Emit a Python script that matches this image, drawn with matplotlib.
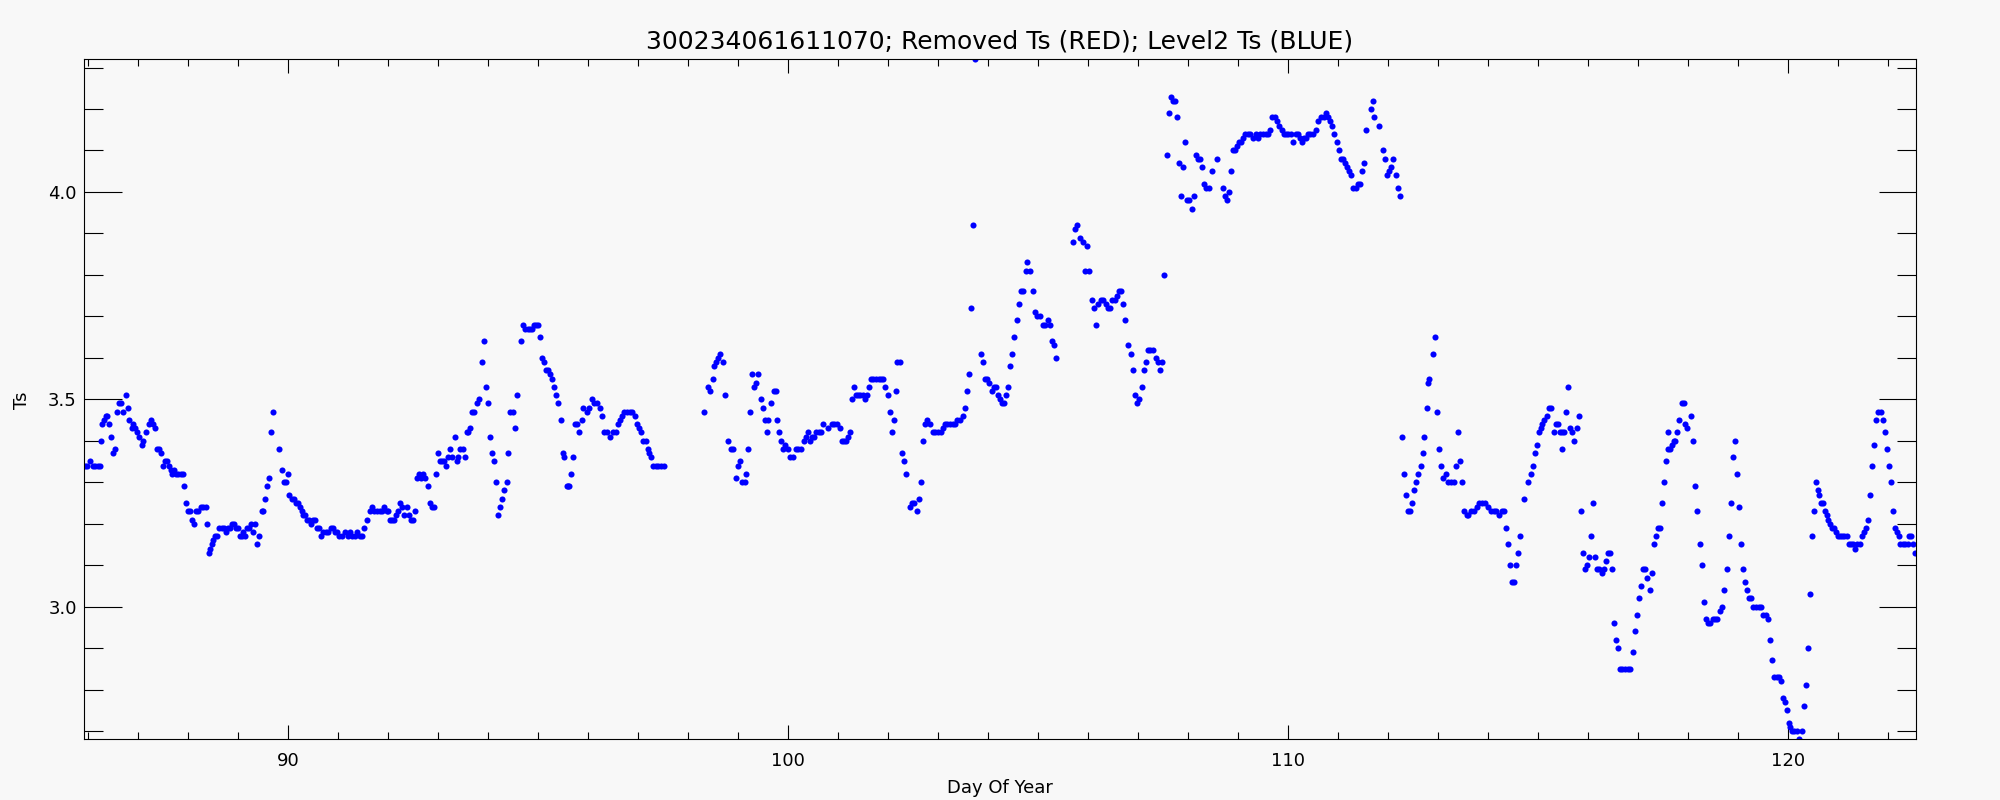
import numpy as np
import matplotlib.pyplot as plt
from matplotlib.ticker import MultipleLocator, FormatStrFormatter

plt.rcParams['font.family'] = 'DejaVu Sans'

title = '300234061611070; Removed Ts (RED); Level2 Ts (BLUE)'
x_label = 'Day Of Year'
y_label = 'Ts'

# Level2 Ts, (day of year, Ts)
ts_86_91 = [
    (85.94, 3.34), (85.98, 3.34), (86.03, 3.35), (86.09, 3.34), (86.14, 3.34), (86.19, 3.34), (86.23, 3.34),
    (86.25, 3.40), (86.27, 3.44), (86.31, 3.45), (86.35, 3.46), (86.38, 3.46), (86.42, 3.44), (86.45, 3.41),
    (86.49, 3.37), (86.53, 3.38), (86.57, 3.47), (86.61, 3.49), (86.65, 3.49), (86.70, 3.47), (86.75, 3.51),
    (86.79, 3.48), (86.82, 3.45), (86.87, 3.43), (86.90, 3.44), (86.93, 3.43), (86.98, 3.42), (87.02, 3.41),
    (87.07, 3.39), (87.10, 3.40), (87.15, 3.42), (87.21, 3.44), (87.25, 3.45), (87.29, 3.44), (87.33, 3.43),
    (87.37, 3.38), (87.42, 3.38), (87.45, 3.37), (87.49, 3.34), (87.53, 3.35), (87.57, 3.35), (87.61, 3.34),
    (87.65, 3.33), (87.68, 3.32), (87.72, 3.33), (87.75, 3.32), (87.80, 3.32), (87.85, 3.32), (87.89, 3.32),
    (87.91, 3.29), (87.95, 3.25), (87.99, 3.23), (88.03, 3.23), (88.08, 3.21), (88.11, 3.20), (88.15, 3.23),
    (88.20, 3.23), (88.25, 3.24), (88.30, 3.24), (88.35, 3.24), (88.37, 3.20), (88.41, 3.13), (88.43, 3.14),
    (88.47, 3.15), (88.50, 3.16), (88.53, 3.17), (88.58, 3.17), (88.62, 3.19), (88.67, 3.19), (88.71, 3.19),
    (88.75, 3.18), (88.79, 3.19), (88.83, 3.19), (88.87, 3.20), (88.91, 3.20), (88.95, 3.19), (88.99, 3.19),
    (89.03, 3.17), (89.07, 3.17), (89.10, 3.18), (89.14, 3.17), (89.17, 3.19), (89.21, 3.19), (89.25, 3.20),
    (89.29, 3.18), (89.33, 3.20), (89.37, 3.15), (89.41, 3.17), (89.47, 3.23), (89.50, 3.23), (89.53, 3.26),
    (89.57, 3.29), (89.61, 3.31), (89.65, 3.42), (89.69, 3.47), (89.82, 3.38), (89.87, 3.33), (89.91, 3.30),
    (89.95, 3.30), (89.99, 3.32), (90.02, 3.27), (90.07, 3.26), (90.11, 3.26), (90.15, 3.25), (90.20, 3.25),
    (90.23, 3.24), (90.27, 3.23), (90.30, 3.22), (90.33, 3.22), (90.37, 3.21), (90.42, 3.21), (90.45, 3.20),
    (90.49, 3.21), (90.53, 3.21), (90.58, 3.19), (90.62, 3.19), (90.65, 3.17), (90.70, 3.18), (90.75, 3.18),
    (90.80, 3.18), (90.85, 3.19), (90.90, 3.19), (90.93, 3.18), (90.98, 3.18), (91.02, 3.17),
]

ts_91_96 = [
    (91.08, 3.17), (91.13, 3.18), (91.19, 3.17), (91.24, 3.18), (91.28, 3.17), (91.33, 3.17), (91.37, 3.18),
    (91.43, 3.17), (91.48, 3.17), (91.52, 3.19), (91.57, 3.21), (91.63, 3.23), (91.68, 3.24), (91.72, 3.23),
    (91.77, 3.23), (91.83, 3.23), (91.87, 3.23), (91.92, 3.24), (91.97, 3.23), (92.00, 3.23), (92.03, 3.21),
    (92.08, 3.21), (92.12, 3.21), (92.15, 3.22), (92.19, 3.23), (92.23, 3.25), (92.28, 3.24), (92.32, 3.22),
    (92.37, 3.24), (92.41, 3.22), (92.45, 3.21), (92.50, 3.21), (92.53, 3.23), (92.57, 3.31), (92.61, 3.32),
    (92.65, 3.31), (92.69, 3.32), (92.73, 3.31), (92.79, 3.29), (92.83, 3.25), (92.87, 3.24), (92.91, 3.24),
    (92.95, 3.32), (92.99, 3.37), (93.03, 3.35), (93.07, 3.35), (93.11, 3.35), (93.15, 3.34), (93.20, 3.36),
    (93.24, 3.38), (93.28, 3.36), (93.33, 3.41), (93.37, 3.35), (93.40, 3.36), (93.43, 3.38), (93.49, 3.38),
    (93.53, 3.36), (93.57, 3.42), (93.60, 3.42), (93.64, 3.43), (93.67, 3.47), (93.72, 3.47), (93.77, 3.49),
    (93.81, 3.50), (93.87, 3.59), (93.91, 3.64), (93.95, 3.53), (93.99, 3.49), (94.03, 3.41), (94.07, 3.37),
    (94.11, 3.35), (94.15, 3.30), (94.19, 3.22), (94.23, 3.24), (94.27, 3.26), (94.32, 3.28), (94.37, 3.30),
    (94.40, 3.37), (94.43, 3.47), (94.49, 3.47), (94.53, 3.43), (94.57, 3.51), (94.65, 3.64), (94.69, 3.68),
    (94.73, 3.67), (94.79, 3.67), (94.83, 3.67), (94.87, 3.67), (94.91, 3.68), (94.95, 3.68), (95.00, 3.68),
    (95.03, 3.65), (95.07, 3.60), (95.11, 3.59), (95.15, 3.57), (95.19, 3.57), (95.23, 3.56), (95.27, 3.55),
    (95.31, 3.53), (95.36, 3.51), (95.40, 3.49), (95.45, 3.45), (95.49, 3.37), (95.52, 3.36), (95.58, 3.29),
    (95.60, 3.29), (95.62, 3.29), (95.65, 3.32), (95.69, 3.36), (95.73, 3.44), (95.78, 3.44), (95.81, 3.42),
    (95.87, 3.45), (95.90, 3.48),
]

ts_96_101 = [
    (95.97, 3.47), (96.01, 3.48), (96.07, 3.50), (96.12, 3.49), (96.17, 3.49), (96.23, 3.48), (96.27, 3.46),
    (96.32, 3.42), (96.37, 3.42), (96.44, 3.41), (96.49, 3.42), (96.55, 3.42), (96.60, 3.44), (96.64, 3.45),
    (96.68, 3.46), (96.72, 3.47), (96.77, 3.47), (96.83, 3.47), (96.88, 3.47), (96.93, 3.46), (96.97, 3.44),
    (97.01, 3.43), (97.05, 3.42), (97.10, 3.40), (97.15, 3.40), (97.19, 3.38), (97.22, 3.37), (97.25, 3.36),
    (97.29, 3.34), (97.35, 3.34), (97.40, 3.34), (97.45, 3.34), (97.51, 3.34),
    (98.32, 3.47), (98.40, 3.53), (98.44, 3.52), (98.49, 3.55), (98.52, 3.58), (98.55, 3.59), (98.60, 3.60),
    (98.64, 3.61), (98.69, 3.59), (98.73, 3.51), (98.79, 3.40), (98.85, 3.38), (98.90, 3.38), (98.95, 3.31),
    (98.99, 3.34), (99.03, 3.35), (99.08, 3.30), (99.13, 3.30), (99.15, 3.32), (99.19, 3.38), (99.23, 3.47),
    (99.27, 3.56), (99.32, 3.53), (99.35, 3.54), (99.40, 3.56), (99.45, 3.50), (99.49, 3.48), (99.53, 3.45),
    (99.57, 3.42), (99.60, 3.45), (99.65, 3.49), (99.71, 3.52), (99.75, 3.52), (99.77, 3.45), (99.81, 3.42),
    (99.85, 3.40), (99.90, 3.38), (99.93, 3.39), (99.99, 3.38), (100.04, 3.36), (100.10, 3.36), (100.15, 3.38),
    (100.20, 3.38), (100.25, 3.38), (100.31, 3.40), (100.35, 3.41), (100.39, 3.42), (100.43, 3.40),
    (100.47, 3.41), (100.52, 3.41), (100.56, 3.42), (100.61, 3.42), (100.65, 3.42), (100.69, 3.44),
    (100.80, 3.43), (100.87, 3.44), (100.92, 3.44), (100.97, 3.44), (101.03, 3.43), (101.07, 3.40),
    (101.12, 3.40), (101.16, 3.40), (101.20, 3.41), (101.24, 3.42), (101.27, 3.50), (101.31, 3.53),
    (101.35, 3.51), (101.39, 3.51), (101.44, 3.51), (101.49, 3.51),
]

ts_101_106 = [
    (101.53, 3.50), (101.57, 3.51), (101.61, 3.53), (101.65, 3.55), (101.70, 3.55), (101.75, 3.55),
    (101.81, 3.55), (101.86, 3.55), (101.90, 3.55), (101.93, 3.53), (101.99, 3.51), (102.03, 3.47),
    (102.07, 3.42), (102.11, 3.45), (102.15, 3.52), (102.18, 3.59), (102.23, 3.59), (102.27, 3.37),
    (102.31, 3.35), (102.35, 3.32), (102.43, 3.24), (102.47, 3.25), (102.52, 3.25), (102.57, 3.23),
    (102.61, 3.26), (102.65, 3.30), (102.69, 3.40), (102.74, 3.44), (102.78, 3.45), (102.83, 3.44),
    (102.89, 3.42), (102.94, 3.42), (102.99, 3.42), (103.05, 3.42), (103.09, 3.43), (103.13, 3.44),
    (103.18, 3.44), (103.23, 3.44), (103.29, 3.44), (103.33, 3.44), (103.38, 3.45), (103.43, 3.45),
    (103.49, 3.46), (103.53, 3.48), (103.57, 3.52), (103.61, 3.56), (103.65, 3.72), (103.69, 3.92),
    (103.73, 4.32), (103.85, 3.61), (103.89, 3.59), (103.93, 3.55), (103.97, 3.55), (104.02, 3.54),
    (104.07, 3.52), (104.11, 3.53), (104.15, 3.53), (104.19, 3.51), (104.23, 3.50), (104.27, 3.49),
    (104.31, 3.49), (104.35, 3.51), (104.39, 3.53), (104.43, 3.58), (104.48, 3.61), (104.52, 3.65),
    (104.57, 3.69), (104.61, 3.73), (104.65, 3.76), (104.70, 3.76), (104.75, 3.81), (104.78, 3.83),
    (104.83, 3.81), (104.89, 3.76), (104.93, 3.71), (104.98, 3.70), (105.03, 3.70), (105.09, 3.68),
    (105.14, 3.68), (105.19, 3.69), (105.23, 3.68), (105.27, 3.64), (105.31, 3.63), (105.35, 3.60),
    (105.69, 3.88), (105.73, 3.91), (105.78, 3.92), (105.83, 3.89), (105.89, 3.88), (105.94, 3.81),
    (105.98, 3.87), (106.02, 3.81),
]

ts_106_110 = [
    (106.07, 3.74), (106.11, 3.72), (106.15, 3.68), (106.20, 3.73), (106.25, 3.74), (106.30, 3.74),
    (106.35, 3.73), (106.39, 3.72), (106.43, 3.72), (106.48, 3.74), (106.53, 3.74), (106.57, 3.75),
    (106.61, 3.76), (106.65, 3.76), (106.69, 3.73), (106.73, 3.69), (106.79, 3.63), (106.85, 3.61),
    (106.89, 3.57), (106.93, 3.51), (106.97, 3.49), (107.02, 3.50), (107.07, 3.53), (107.11, 3.57),
    (107.15, 3.59), (107.19, 3.62), (107.24, 3.62), (107.29, 3.62), (107.35, 3.60), (107.39, 3.59),
    (107.43, 3.57), (107.48, 3.59), (107.51, 3.80), (107.57, 4.09), (107.61, 4.19), (107.65, 4.23),
    (107.69, 4.22), (107.73, 4.22), (107.78, 4.18), (107.81, 4.07), (107.85, 3.99), (107.89, 4.06),
    (107.93, 4.12), (107.97, 3.98), (108.01, 3.98), (108.07, 3.96), (108.11, 3.99), (108.15, 4.09),
    (108.20, 4.08), (108.24, 4.08), (108.27, 4.06), (108.31, 4.02), (108.36, 4.01), (108.41, 4.01),
    (108.47, 4.05), (108.57, 4.08), (108.69, 4.01), (108.73, 3.99), (108.77, 3.98), (108.81, 4.00),
    (108.85, 4.05), (108.89, 4.10), (108.93, 4.10), (108.97, 4.11), (109.01, 4.12), (109.05, 4.12),
    (109.09, 4.13), (109.13, 4.14), (109.19, 4.14), (109.24, 4.14), (109.29, 4.13), (109.35, 4.14),
    (109.39, 4.13), (109.44, 4.14), (109.49, 4.14), (109.55, 4.14), (109.60, 4.14), (109.64, 4.15),
    (109.68, 4.18), (109.73, 4.18), (109.77, 4.17), (109.81, 4.16), (109.87, 4.15), (109.91, 4.14),
    (109.96, 4.14),
]

ts_110_114 = [
    (110.00, 4.14), (110.05, 4.14), (110.10, 4.12), (110.15, 4.14), (110.20, 4.14), (110.24, 4.13),
    (110.27, 4.12), (110.31, 4.13), (110.35, 4.13), (110.39, 4.14), (110.44, 4.14), (110.49, 4.14),
    (110.55, 4.15), (110.60, 4.17), (110.65, 4.18), (110.71, 4.18), (110.75, 4.19), (110.79, 4.18),
    (110.83, 4.17), (110.87, 4.16), (110.92, 4.14), (110.97, 4.12), (111.01, 4.10), (111.05, 4.08),
    (111.10, 4.08), (111.13, 4.07), (111.17, 4.06), (111.21, 4.05), (111.25, 4.04), (111.30, 4.01),
    (111.35, 4.01), (111.39, 4.02), (111.43, 4.02), (111.47, 4.05), (111.51, 4.07), (111.55, 4.15),
    (111.65, 4.20), (111.69, 4.22), (111.72, 4.18), (111.81, 4.16), (111.89, 4.10), (111.93, 4.08),
    (111.97, 4.04), (112.01, 4.05), (112.05, 4.06), (112.09, 4.08), (112.15, 4.04), (112.19, 4.01),
    (112.23, 3.99),
    (112.27, 3.41), (112.31, 3.32), (112.35, 3.27), (112.40, 3.23), (112.43, 3.23), (112.47, 3.25),
    (112.51, 3.28), (112.55, 3.30), (112.59, 3.32), (112.65, 3.34), (112.69, 3.37), (112.72, 3.41),
    (112.77, 3.48), (112.80, 3.54), (112.81, 3.55), (112.89, 3.61), (112.93, 3.65), (112.97, 3.47),
    (113.01, 3.38), (113.05, 3.34), (113.10, 3.31), (113.15, 3.32), (113.20, 3.30), (113.25, 3.30),
    (113.31, 3.30), (113.35, 3.34), (113.39, 3.42), (113.43, 3.35), (113.47, 3.30), (113.52, 3.23),
    (113.57, 3.22), (113.60, 3.22), (113.65, 3.23), (113.71, 3.23), (113.77, 3.24), (113.82, 3.25),
    (113.88, 3.25), (113.93, 3.25), (113.99, 3.24),
]

ts_114_118 = [
    (114.05, 3.23), (114.11, 3.23), (114.16, 3.23), (114.21, 3.22), (114.27, 3.23), (114.31, 3.23),
    (114.35, 3.19), (114.39, 3.15), (114.43, 3.10), (114.47, 3.06), (114.51, 3.06), (114.55, 3.10),
    (114.59, 3.13), (114.63, 3.17), (114.72, 3.26), (114.80, 3.30), (114.85, 3.32), (114.89, 3.34),
    (114.93, 3.37), (114.97, 3.39), (115.01, 3.42), (115.05, 3.43), (115.08, 3.44), (115.12, 3.45),
    (115.17, 3.46), (115.21, 3.48), (115.25, 3.48), (115.31, 3.42), (115.35, 3.44), (115.39, 3.44),
    (115.44, 3.42), (115.47, 3.38), (115.48, 3.42), (115.52, 3.42), (115.55, 3.47), (115.59, 3.53),
    (115.63, 3.43), (115.68, 3.42), (115.72, 3.40), (115.77, 3.43), (115.81, 3.46), (115.85, 3.23),
    (115.89, 3.13), (115.93, 3.09), (115.97, 3.10), (116.01, 3.12), (116.05, 3.17), (116.09, 3.25),
    (116.13, 3.12), (116.17, 3.09), (116.21, 3.09), (116.27, 3.08), (116.31, 3.09), (116.35, 3.11),
    (116.40, 3.13), (116.43, 3.13), (116.47, 3.09), (116.52, 2.96), (116.55, 2.92), (116.59, 2.90),
    (116.63, 2.85), (116.68, 2.85), (116.73, 2.85), (116.79, 2.85), (116.84, 2.85), (116.89, 2.89),
    (116.93, 2.94), (116.97, 2.98), (117.01, 3.02), (117.05, 3.05), (117.09, 3.09), (117.13, 3.09),
    (117.17, 3.07), (117.23, 3.04), (117.27, 3.08), (117.31, 3.15), (117.35, 3.17), (117.39, 3.19),
    (117.43, 3.19), (117.47, 3.25), (117.51, 3.30), (117.55, 3.35), (117.59, 3.38), (117.59, 3.42),
    (117.63, 3.38), (117.67, 3.39), (117.71, 3.40), (117.73, 3.40), (117.77, 3.42), (117.81, 3.45),
    (117.87, 3.49), (117.91, 3.49), (117.93, 3.44), (117.97, 3.43), (118.05, 3.46), (118.09, 3.40),
    (118.13, 3.29), (118.17, 3.23), (118.23, 3.15), (118.27, 3.10), (118.31, 3.01), (118.35, 2.97),
    (118.39, 2.96), (118.44, 2.96), (118.49, 2.97),
]

ts_118_123 = [
    (118.54, 2.97), (118.58, 2.97), (118.63, 2.99), (118.67, 3.00), (118.71, 3.04), (118.77, 3.09),
    (118.81, 3.17), (118.85, 3.25), (118.89, 3.36), (118.93, 3.40), (118.97, 3.32), (119.01, 3.24),
    (119.05, 3.15), (119.09, 3.09), (119.13, 3.06), (119.17, 3.04), (119.21, 3.02), (119.25, 3.02),
    (119.30, 3.00), (119.35, 3.00), (119.41, 3.00), (119.46, 3.00), (119.50, 2.98), (119.55, 2.98),
    (119.59, 2.97), (119.63, 2.92), (119.67, 2.87), (119.71, 2.83), (119.77, 2.83), (119.81, 2.83),
    (119.85, 2.82), (119.89, 2.78), (119.93, 2.77), (119.97, 2.75), (120.01, 2.72), (120.03, 2.71),
    (120.07, 2.70), (120.11, 2.70), (120.17, 2.70), (120.22, 2.68), (120.27, 2.70), (120.31, 2.76),
    (120.35, 2.81), (120.39, 2.90), (120.43, 3.03), (120.47, 3.17), (120.51, 3.23), (120.55, 3.30),
    (120.59, 3.28), (120.62, 3.27), (120.66, 3.25), (120.70, 3.25), (120.74, 3.23), (120.77, 3.22),
    (120.80, 3.21), (120.83, 3.20), (120.87, 3.19), (120.91, 3.19), (120.95, 3.18), (120.99, 3.17),
    (121.03, 3.17), (121.07, 3.17), (121.11, 3.17), (121.17, 3.17), (121.21, 3.15), (121.25, 3.15),
    (121.30, 3.15), (121.34, 3.14), (121.38, 3.15), (121.43, 3.15), (121.47, 3.17), (121.51, 3.18),
    (121.55, 3.19), (121.59, 3.21), (121.63, 3.27), (121.67, 3.34), (121.71, 3.39), (121.75, 3.45),
    (121.79, 3.47), (121.85, 3.47), (121.89, 3.45), (121.93, 3.42), (121.97, 3.38), (122.01, 3.34),
    (122.05, 3.30), (122.09, 3.23), (122.13, 3.19), (122.17, 3.18), (122.21, 3.17), (122.23, 3.15),
    (122.29, 3.15), (122.34, 3.15), (122.39, 3.15), (122.42, 3.17), (122.46, 3.17), (122.50, 3.15),
    (122.54, 3.13),
]

segments = [ts_86_91, ts_91_96, ts_96_101, ts_101_106, ts_106_110, ts_110_114, ts_114_118, ts_118_123]
pts = np.array([p for seg in segments for p in seg])

bg = '#f8f8f8'
fig = plt.figure(figsize=(20, 8), dpi=100, facecolor=bg)
ax = fig.add_axes([0.0422, 0.0759, 0.916, 0.85])
ax.set_facecolor(bg)

ax.plot(pts[:, 0], pts[:, 1], 'o', color='#0000ff', ms=4.4, mew=0)

ax.set_xlim(85.92, 122.56)
ax.set_ylim(2.68, 4.32)
ax.xaxis.set_major_locator(MultipleLocator(10))
ax.xaxis.set_minor_locator(MultipleLocator(1))
ax.yaxis.set_major_locator(MultipleLocator(0.5))
ax.yaxis.set_minor_locator(MultipleLocator(0.1))
ax.yaxis.set_major_formatter(FormatStrFormatter('%.1f'))

ax.tick_params(which='both', direction='in', top=True, right=True, width=0.8, labelsize=13)
ax.tick_params(axis='x', which='major', length=10, pad=9.5)
ax.tick_params(axis='x', which='minor', length=5)
ax.tick_params(axis='y', which='major', length=27, pad=5.4)
ax.tick_params(axis='y', which='minor', length=13.5)
for s in ax.spines.values():
    s.set_linewidth(0.8)

fig.text(0.5, 0.94, title, ha='center', va='baseline', fontsize=18)
fig.text(0.5, 0.009, x_label, ha='center', va='baseline', fontsize=13)
fig.text(0.0108, 0.5, y_label, rotation=90, ha='center', va='center', fontsize=13)

fig.savefig('out.png', dpi=100, facecolor=bg)
